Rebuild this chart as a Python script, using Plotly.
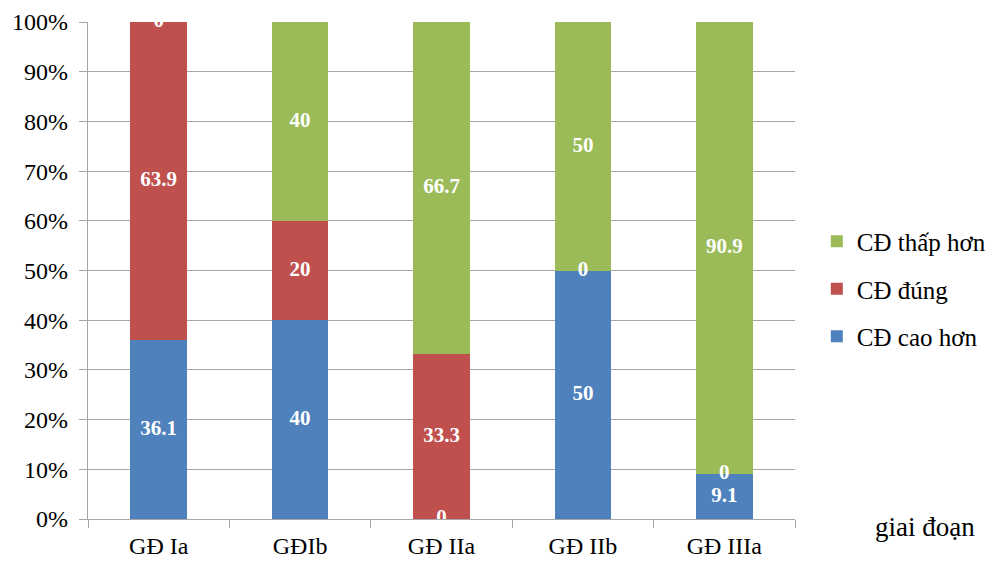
import plotly.graph_objects as go

categories = ["GĐ Ia", "GĐIb", "GĐ IIa", "GĐ IIb", "GĐ IIIa"]
cao_hon = [36.1, 40, 0, 50, 9.1]
dung = [63.9, 20, 33.3, 0, 0]
thap_hon = [0, 40, 66.7, 50, 90.9]
series_names = ["CĐ cao hơn", "CĐ đúng", "CĐ thấp hơn"]
colors = ["#4F81BD", "#C0504D", "#9BBB59"]
y_ticks = [0, 10, 20, 30, 40, 50, 60, 70, 80, 90, 100]

FONT = "Liberation Serif"
series = [cao_hon, dung, thap_hon]

fig = go.Figure()
for k, (name, vals, col) in enumerate(zip(series_names, series, colors)):
    fig.add_trace(go.Bar(x=categories, y=vals, name=name, marker_color=col,
                         marker_line_width=0, width=0.4, legendgroup=f"g{k}",
                         legendrank=1000 - k))

# labels at segment centres
base = [0] * len(categories)
lx, ly, lt = [], [], []
for vals in series:
    for i, v in enumerate(vals):
        lx.append(categories[i])
        ly.append(base[i] + v / 2)
        lt.append(f"<b>{v:g}</b>")
        base[i] += v
fig.add_trace(go.Scatter(x=lx, y=ly, text=lt, mode="text", showlegend=False,
                         textfont=dict(family=FONT, size=21, color="white"),
                         hoverinfo="skip", cliponaxis=True))

fig.update_layout(
    barmode="stack",
    width=1001, height=561,
    margin=dict(l=88, r=206, t=22, b=42, autoexpand=False),
    paper_bgcolor="white", plot_bgcolor="white",
    font=dict(family=FONT, size=24, color="#000000"),
    legend=dict(xref="container", yref="container", x=0.816, y=(561 - 289) / 561,
                yanchor="middle", xanchor="left",
                traceorder="grouped", font=dict(family=FONT, size=25),
                itemwidth=30, tracegroupgap=12),
    showlegend=True,
)
fig.update_yaxes(range=[0, 100], tickvals=y_ticks,
                 ticktext=[f"{t}%" for t in y_ticks],
                 showgrid=True, gridcolor="#A6A6A6", gridwidth=1.3,
                 showline=True, linecolor="#A6A6A6", linewidth=1.3,
                 ticks="outside", ticklen=8, tickcolor="#A6A6A6",
                 ticklabelstandoff=6, automargin=False,
                 zeroline=False, tickfont=dict(family=FONT, size=24), fixedrange=True)
fig.update_xaxes(showline=True, linecolor="#A6A6A6", linewidth=1.3,
                 ticks="outside", ticklen=8, tickcolor="#A6A6A6", tickson="boundaries",
                 ticklabelstandoff=5, automargin=False,
                 tickfont=dict(family=FONT, size=24))
fig.add_annotation(text="giai đoạn", xref="paper", yref="paper", x=(925 - 88) / 707, y=-0.016,
                   xanchor="center", yanchor="middle", showarrow=False,
                   font=dict(family=FONT, size=27))

fig.write_html("out.html")
